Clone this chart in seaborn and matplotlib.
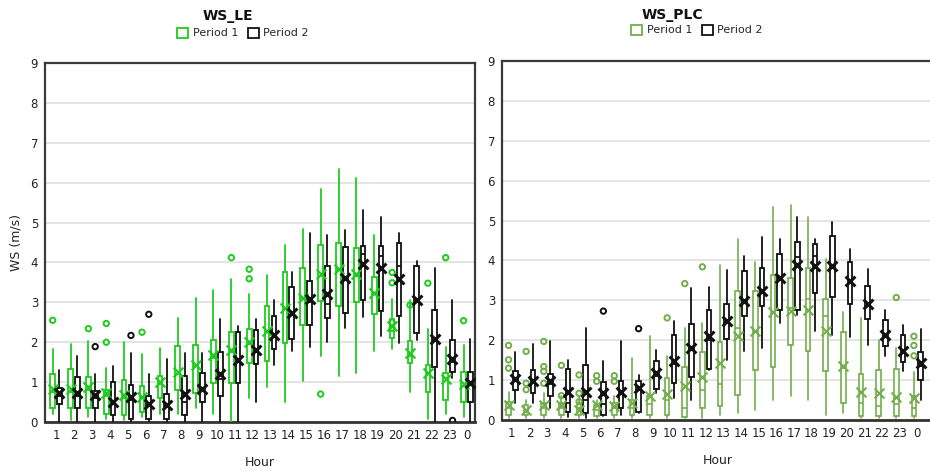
import matplotlib
matplotlib.use("Agg")
import matplotlib.pyplot as plt
from matplotlib.patches import Patch
import seaborn as sns
import numpy as np

sns.set_style("white")
plt.rcParams['font.family'] = ['DejaVu Sans']

hours = ["1", "2", "3", "4", "5", "6", "7", "8", "9", "10", "11", "12",
         "13", "14", "15", "16", "17", "18", "19", "20", "21", "22", "23", "0"]

# ---------------- WS_LE ----------------
le1_lo = [0.2, 0.06, 0.13, 0.08, 0.04, 0.13, 0.21, 0.21, 0.34, 0.21, 0.0, 0.59, 0.88, 0.49, 1.04, 1.66, 1.15, 1.22, 1.78, 1.83, 0.76, 0.08, 0.21, 0.13]
le1_q1 = [0.36, 0.36, 0.34, 0.19, 0.17, 0.25, 0.59, 0.8, 0.72, 0.97, 0.98, 1.49, 1.53, 1.98, 2.44, 3.03, 2.92, 3.0, 2.72, 2.1, 1.47, 0.76, 0.56, 0.5]
le1_med = [0.75, 0.75, 0.8, 0.65, 0.6, 0.6, 0.95, 1.2, 1.4, 1.6, 1.75, 1.95, 2.25, 2.85, 3.1, 3.65, 3.8, 3.65, 3.2, 2.4, 1.65, 1.2, 1.1, 0.9]
le1_q3 = [1.2, 1.32, 1.14, 0.8, 1.05, 0.9, 1.16, 1.9, 1.92, 2.06, 2.25, 2.33, 2.92, 3.75, 3.87, 4.44, 4.5, 4.35, 3.64, 2.57, 2.02, 1.43, 1.22, 1.25]
le1_hi = [1.83, 1.95, 2.02, 1.36, 2.0, 1.7, 1.85, 2.61, 3.1, 3.3, 3.58, 3.22, 3.68, 4.44, 4.84, 5.85, 6.34, 6.12, 4.69, 3.09, 3.07, 2.33, 1.89, 1.94]
le1_mean = [0.82, 0.82, 0.88, 0.72, 0.67, 0.63, 1.01, 1.26, 1.43, 1.68, 1.81, 2.0, 2.27, 2.86, 3.11, 3.72, 3.83, 3.7, 3.24, 2.4, 1.74, 1.22, 1.09, 0.95]
le1_out = {"1": [2.55], "3": [2.34], "4": [2.47, 2.0], "6": [2.25], "11": [4.12],
           "12": [3.83, 3.59], "16": [0.7], "20": [3.75, 3.49, 2.5, 2.35], "21": [2.93],
           "22": [3.48], "23": [4.12], "0": [2.54]}

le2_lo = [0, 0, 0, 0, 0, 0, 0, 0, 0, 0, 0, 0.5, 1.43, 1.79, 1.89, 2.0, 2.36, 2.63, 2.16, 1.98, 2.05, 0, 1.1, 0]
le2_q1 = [0.46, 0.36, 0.34, 0.17, 0.08, 0.08, 0.08, 0.17, 0.49, 0.66, 0.98, 1.45, 1.83, 2.08, 2.42, 2.61, 2.74, 3.07, 2.78, 2.65, 2.23, 1.39, 1.26, 0.5]
le2_med = [0.65, 0.65, 0.6, 0.45, 0.55, 0.4, 0.4, 0.5, 0.8, 1.09, 1.55, 1.75, 2.2, 2.7, 3.0, 2.95, 3.6, 4.2, 4.17, 3.9, 3.0, 2.05, 1.5, 0.95]
le2_q3 = [0.84, 1.14, 0.77, 1.0, 0.93, 0.66, 0.7, 1.16, 1.24, 1.75, 2.25, 2.3, 2.65, 3.38, 3.54, 3.9, 4.38, 4.4, 4.4, 4.49, 3.91, 2.82, 2.06, 1.25]
le2_hi = [1.3, 1.66, 1.2, 1.4, 1.72, 1.2, 1.57, 1.72, 1.72, 2.57, 2.4, 2.57, 3.05, 3.75, 4.74, 4.69, 4.82, 5.32, 5.15, 4.74, 4.04, 3.87, 3.05, 2.09]
le2_mean = [0.72, 0.72, 0.67, 0.5, 0.63, 0.46, 0.42, 0.69, 0.82, 1.2, 1.56, 1.81, 2.19, 2.74, 3.09, 3.2, 3.62, 3.96, 3.87, 3.58, 3.06, 2.08, 1.57, 0.97]
le2_out = {"3": [1.89], "5": [2.17], "6": [2.7], "23": [0.04]}

# ---------------- WS_PLC ----------------
plc1_lo = [0.04] * 12 + [0.13, 0.17, 0.25, 0.49, 0.59, 0.49, 0.13, 0.18, 0.04, 0.04, 0.04, 0.04]
plc1_q1 = [0.13, 0.13, 0.13, 0.13, 0.13, 0.1, 0.13, 0.13, 0.13, 0.13, 0.08, 0.29, 0.35, 0.63, 1.26, 1.34, 1.89, 1.74, 1.24, 0.42, 0.1, 0.1, 0.1, 0.1]
plc1_med = [0.3, 0.2, 0.3, 0.3, 0.3, 0.25, 0.3, 0.3, 0.4, 0.5, 0.3, 0.75, 0.9, 2.3, 2.2, 2.7, 2.8, 3.03, 2.6, 1.3, 0.42, 0.34, 0.4, 0.3]
plc1_q3 = [0.46, 0.38, 0.42, 0.42, 0.42, 0.38, 0.42, 0.5, 0.59, 1.05, 1.34, 1.7, 1.95, 3.24, 3.24, 3.63, 3.55, 3.8, 3.04, 2.2, 1.16, 1.26, 1.29, 0.59]
plc1_hi = [0.71, 0.5, 0.67, 0.6, 0.6, 0.5, 0.6, 1.55, 2.1, 1.6, 2.31, 2.44, 3.88, 4.54, 3.95, 5.34, 5.39, 5.08, 4.03, 2.71, 2.56, 2.0, 1.8, 1.2]
plc1_mean = [0.38, 0.25, 0.38, 0.38, 0.25, 0.38, 0.34, 0.42, 0.59, 0.66, 0.84, 1.08, 1.43, 2.1, 2.23, 2.71, 2.73, 2.77, 2.23, 1.36, 0.71, 0.67, 0.57, 0.55]
plc1_out = {"1": [1.87, 1.51, 1.3], "2": [1.72, 0.92, 0.76], "3": [1.97, 1.34, 1.22, 0.92],
            "4": [1.37, 0.61], "5": [1.13, 0.67, 0.46], "6": [1.11, 0.97], "7": [1.11, 0.97],
            "10": [2.56], "11": [3.42], "12": [3.84], "23": [3.07], "0": [2.1, 1.87, 1.61]}

plc2_lo = [0.42, 0.42, 0.29, 0.08, 0.04, 0.1, 0.13, 0.17, 0.67, 0.55, 0.5, 1.26, 1.51, 1.72, 1.8, 2.44, 2.62, 2.23, 2.12, 2.08, 1.87, 1.6, 1.24, 0.5]
plc2_q1 = [0.76, 0.67, 0.59, 0.21, 0.17, 0.13, 0.29, 0.21, 0.77, 0.92, 1.09, 1.28, 2.04, 2.6, 2.86, 2.77, 2.77, 3.18, 3.09, 2.9, 2.52, 1.85, 1.45, 1.01]
plc2_med = [1.0, 0.95, 0.9, 0.42, 0.5, 0.4, 0.65, 0.75, 1.1, 1.4, 1.75, 2.0, 2.45, 2.95, 3.2, 3.55, 4.08, 4.12, 3.85, 3.45, 2.85, 2.1, 1.7, 1.35]
plc2_q3 = [1.22, 1.26, 1.15, 1.28, 1.39, 0.95, 0.99, 0.98, 1.47, 2.12, 2.41, 2.77, 2.9, 3.74, 3.8, 4.16, 4.47, 4.41, 4.62, 3.95, 3.36, 2.5, 2.14, 1.71]
plc2_hi = [1.71, 1.9, 1.97, 1.51, 2.31, 1.47, 1.97, 1.12, 1.76, 2.48, 3.32, 3.34, 3.76, 4.12, 4.58, 4.55, 5.08, 4.54, 4.97, 4.29, 3.78, 2.77, 2.39, 2.27]
plc2_mean = [1.03, 0.99, 0.97, 0.71, 0.71, 0.67, 0.69, 0.8, 1.18, 1.47, 1.81, 2.1, 2.48, 2.98, 3.24, 3.57, 3.88, 3.85, 3.87, 3.49, 2.92, 2.14, 1.72, 1.43]
plc2_out = {"6": [2.73], "8": [2.29]}

GREEN_LE = "#1FCB1F"
GREEN_PLC = "#72AE4C"
BLACK = "#111111"


def draw_series(ax, lo, q1, med, q3, hi, mean, out, offset, color, lw, mean_lw):
    pos = np.arange(len(hours)) + offset
    stats = []
    for i in range(len(hours)):
        stats.append(dict(whislo=lo[i], q1=q1[i], med=med[i], q3=q3[i],
                          whishi=hi[i], mean=mean[i], fliers=[]))
    ax.bxp(stats, positions=pos, widths=0.26, showfliers=False, showmeans=False,
           showcaps=False, patch_artist=True,
           boxprops=dict(facecolor="white", edgecolor=color, linewidth=lw),
           whiskerprops=dict(color=color, linewidth=lw),
           medianprops=dict(color=color, linewidth=lw),
           manage_ticks=False, zorder=3)
    sns.scatterplot(x=pos, y=mean, ax=ax, marker="x", s=50, color=color,
                    linewidth=mean_lw, zorder=5, legend=False)
    ox, oy = [], []
    for i, h in enumerate(hours):
        for v in out.get(h, []):
            ox.append(pos[i])
            oy.append(v)
    if ox:
        ax.scatter(ox, oy, s=15, facecolors="none", edgecolors=color,
                   linewidths=1.4, zorder=4)


fig = plt.figure(figsize=(9.3, 4.75), dpi=100)
W, H = 930, 475
ax1 = fig.add_axes([45 / W, 1 - 422 / H, 430 / W, 359 / H])
ax2 = fig.add_axes([502 / W, 1 - 420 / H, 432 / W, 359 / H])

draw_series(ax1, le1_lo, le1_q1, le1_med, le1_q3, le1_hi, le1_mean, le1_out,
            -0.19, GREEN_LE, 1.3, 1.6)
draw_series(ax1, le2_lo, le2_q1, le2_med, le2_q3, le2_hi, le2_mean, le2_out,
            0.19, BLACK, 1.3, 2.2)
draw_series(ax2, plc1_lo, plc1_q1, plc1_med, plc1_q3, plc1_hi, plc1_mean, plc1_out,
            -0.19, GREEN_PLC, 1.2, 1.5)
draw_series(ax2, plc2_lo, plc2_q1, plc2_med, plc2_q3, plc2_hi, plc2_mean, plc2_out,
            0.19, BLACK, 1.3, 2.2)

for ax, xl in ((ax1, (-0.62, 23.45)), (ax2, (-0.56, 23.95))):
    ax.set_ylim(0, 9)
    ax.set_xlim(*xl)
    ax.set_yticks(range(10))
    ax.set_yticklabels([str(v) for v in range(10)], fontsize=8.5, color="#222222")
    ax.set_xticks(range(len(hours)))
    ax.set_xticklabels(hours, fontsize=8.5, color="#222222")
    ax.tick_params(axis="both", length=0, pad=5)
    ax.grid(axis="y", color="#DCDCDC", linewidth=1.1, zorder=0)
    ax.set_axisbelow(True)
    for s in ("left", "top", "right"):
        ax.spines[s].set_color("#3A3A3A")
        ax.spines[s].set_linewidth(1.6)
    ax.spines["bottom"].set_color("#333333")
    ax.spines["bottom"].set_linewidth(2.0)
    ax.set_xlabel("Hour", fontsize=9, labelpad=10, color="#222222")

ax2.spines["right"].set_visible(False)
ax1.set_ylabel("WS (m/s)", fontsize=9, labelpad=6, color="#222222")
ax2.set_ylabel("")

fig.text(228 / W, 1 - 16 / H, "WS_LE", ha="center", va="center",
         fontsize=10, fontweight="bold", color="#111111")
fig.text(672 / W, 1 - 15 / H, "WS_PLC", ha="center", va="center",
         fontsize=10, fontweight="bold", color="#111111")

h_le = [Patch(facecolor="white", edgecolor=GREEN_LE, linewidth=1.3, label="Period 1"),
        Patch(facecolor="white", edgecolor=BLACK, linewidth=1.3, label="Period 2")]
h_plc = [Patch(facecolor="white", edgecolor=GREEN_PLC, linewidth=1.3, label="Period 1"),
         Patch(facecolor="white", edgecolor=BLACK, linewidth=1.3, label="Period 2")]
leg_kw = dict(ncol=2, frameon=False, fontsize=8, handlelength=1.0, handleheight=1.0,
              handletextpad=0.4, columnspacing=0.9, loc="center")
fig.legend(handles=h_le, bbox_to_anchor=(243 / W, 1 - 33 / H), **leg_kw)
fig.legend(handles=h_plc, bbox_to_anchor=(697 / W, 1 - 30 / H), **leg_kw)

fig.savefig("out.png", dpi=100)
